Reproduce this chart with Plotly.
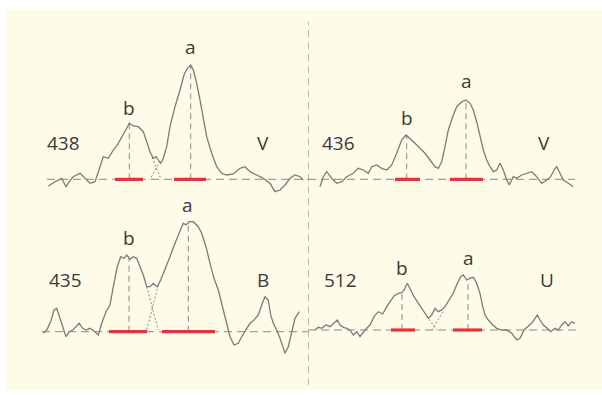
import plotly.graph_objects as go

# ---------------- data (position along trace, amplitude above baseline) ----------------
# Panel 438 (V)
pos_438 = [8.3, 15, 21.7, 26, 29.3, 33.3, 40, 45, 50, 55, 60, 63.3, 68.3, 73.3, 78.3, 83.3, 86.7, 89.3,
           93.3, 98.3, 103.3, 106.7, 110, 113.3, 116, 118.3, 120.7, 123.3, 126.7, 130, 135, 140, 144,
           147.3, 150.7, 153.3, 156.7, 160, 163.3, 166.7, 171.7, 176.7, 181.7, 186.7, 193.3, 200, 205,
           210, 216.7, 223.3, 230, 235, 240, 245, 250, 255, 260, 263.3]
amp_438 = [-6.7, -2.4, 1, -7.4, -2.4, 2.6, 6, 1, -4, -2.4, 12.6, 22.6, 21, 29.3, 36, 44.3, 51, 56,
           53.3, 52.6, 47.6, 37.6, 27.6, 21, 22.6, 19.3, 16, 21, 32.6, 52.6, 72.6, 89.3, 104.3,
           111, 114.3, 109.3, 96, 79.3, 59.3, 42.6, 26, 12.6, 6, 4.3, 5.3, 11, 12.6,
           7.6, 4.3, 1, -4, -12.4, -10.7, -5.7, 1, 4.3, 2.6, -0.7]

# Panel 436 (V)
pos_436 = [12, 15.3, 18.7, 23.7, 28.7, 33.7, 38.7, 45.3, 50.3, 55.3, 60.3, 63.7, 68.7, 73.7, 78.7, 83.7,
           88.7, 93.7, 98, 102, 107, 112, 117, 122, 127, 130.3, 133.7, 137, 140.3, 144.7, 148.7, 153.7,
           158, 162, 165.3, 168.7, 172, 175.3, 178.7, 182, 185.3, 188.7, 192, 195.3, 198.7, 201.3,
           205.3, 208.7, 213.7, 218.7, 223.7, 228.7, 233.7, 238.7, 242.7, 246, 248.7, 252, 255.3,
           260.3, 265.3]
amp_436 = [-7.4, 2.6, 7.6, 1, -4, -2.4, 2.6, 6, 11, 9.3, 6, 12.6, 14.3, 11, 9.3, 14.3,
           26, 39.3, 44.3, 41, 36, 31, 26, 19.3, 12.6, 11, 17.6, 32.6, 49.3, 62.6, 72.6, 77.6,
           79.3, 76, 69.3, 57.6, 42.6, 29.3, 19.3, 12.6, 7.6, 9.3, 16, 9.3, -0.7, -5.7,
           2.6, 1, 4.3, 6, 7.6, 2.6, -4, -0.7, 2.6, 9.3, 12.6, 6, -0.7,
           -4, -7.4]

# Panel 435 (B)
pos_435 = [3.3, 6.7, 10.7, 14, 16.7, 20, 23.3, 26, 29.3, 32.7, 36, 39.3, 42.7, 46, 50, 55, 58.3, 61.7,
           66, 70, 73.3, 77.3, 80.7, 84, 86.7, 90, 93.3, 96.7, 100, 103.3, 106.7, 110, 113.3, 117.3,
           120.7, 125, 130, 135, 140, 143.3, 146, 149.3, 153.3, 158.3, 161.7, 166, 170, 174, 178.3,
           182.7, 186.7, 190, 194, 198.3, 201.7, 206, 210, 214, 218.3, 221.7, 225, 228.3, 230.7,
           233.3, 236.7, 240, 242.7, 245, 248.3, 251.7, 255, 259.3]
amp_435 = [-1.6, 1.7, 10, 21.7, 23.4, 13.4, 1.7, -5, 0, 1.7, 5, 8.4, 3.4, 1.7, 3.4, 0, -3.3, 8.4,
           20, 26.7, 45, 65, 75, 73.4, 76.7, 72.4, 75, 73.4, 65, 56.7, 45, 45, 48.4, 45,
           51.7, 61.7, 75, 88.4, 100, 108.4, 106.7, 110, 110, 105, 98.4, 85, 68.4, 53.4, 41.7,
           25, 8.4, -5, -13.3, -11.6, -5, 1.7, 8.4, 11.7, 16.7, 26.7, 35, 31.7, 16.7,
           8.4, 1.7, -6.6, -15, -21.6, -15, -1.6, 13.4, 20]

# Panel 512 (U)
pos_512 = [7, 10.3, 13.7, 18, 22, 25.3, 29.3, 32, 35.3, 38.7, 42, 45.3, 48.7, 52, 57, 62, 66, 70.3,
           74.7, 78.7, 82, 86, 90.3, 93.7, 96, 99.3, 102.7, 106, 109.3, 112.7, 116, 120.3, 123.7,
           127, 130.3, 133.7, 137, 141.3, 145.3, 149.3, 152.7, 155.3, 158.7, 162, 165.3, 168.7,
           172, 174.7, 177, 180.3, 184.7, 188.7, 193.7, 198.7, 203.7, 208.7, 212, 216, 220.3,
           223.7, 227, 229.3, 232, 235.3, 239.3, 242.7, 247, 250.3, 253.7, 257, 260.3, 263.7, 267]
amp_512 = [0, 2.7, 1.7, 5, 3.3, 6.7, 10, 5, 2.7, 1.7, 0, -5, -1.7, -6.7, 0, 5, 13.3, 18.3,
           16, 23.3, 28.3, 34, 36.7, 37.3, 40, 46.7, 40, 33.3, 28.3, 23.3, 18.3, 11.7, 15,
           21.7, 18.3, 20, 23.3, 30, 36.7, 46.7, 53.3, 55, 50, 51.7, 52.7, 46.7,
           36.7, 23.3, 15, 10, 5, 1.7, 0, 0, -3.3, -10, -8.3, 0, 3.3,
           6.7, 11.7, 15, 10, 5, 1.7, -1.7, 1.7, 0, 5, 8.3, 4, 8.3, 6.7]

# panel meta: id label, band letter, peak b/a positions & heights, red bands, fit crossing lines
panel_ids = ["438", "436", "435", "512"]
band_labels = ["V", "V", "B", "U"]
peak_b_pos = [89.3, 98.7, 89, 94]
peak_b_amp = [56, 44.3, 75, 37.3]
peak_a_pos = [150.7, 158, 148.3, 160]
peak_a_amp = [114.3, 79.3, 110, 50]
red_b = [(75, 103), (87, 112), (69, 107), (83, 107)]
red_a = [(134, 166), (142, 175), (122, 175), (145, 174)]
fit_left = [((112, 22), (121, 0)), None, ((106.7, 45), (118.3, 1.7)), ((118.7, 14), (128.7, 0))]
fit_right = [((120, 18), (110, 0)), None, ((118.3, 46.7), (106.7, 1.7)), ((135.3, 18.3), (123.7, 0))]
baseline_span = [(7, 268), (0, 267), (2, 268), (0, 270)]
id_label_pos = [(23, 36.3), (30, 36.3), (25, 51.7), (32, 50)]
band_label_pos = [(223, 36.3), (236, 36.3), (223, 51.7), (239, 50)]
b_label_pos = [(89, 71.3), (99, 61.3), (89, 93.7), (94, 62)]
a_label_pos = [(150, 132.3), (158, 98.3), (147, 126.7), (160, 72)]

positions = [pos_438, pos_436, pos_435, pos_512]
amplitudes = [amp_438, amp_436, amp_435, amp_512]

# ---------------- layout geometry ----------------
W, H = 602, 395
x_dom = [(40, 308), (308, 588), (40, 308), (308, 588)]   # pixel extents
baseline_px = [179.3, 179.3, 331.7, 330.0]
Y_LO, Y_HI = -30, 150

GRAY = "#8a8a8a"
CURVE = "#7b7b7b"
RED = "#e3343c"
TXT = "#3a3a3a"
FONT = "Open Sans"

fig = go.Figure()
layout_axes = {}
for i in range(4):
    xa = "x" if i == 0 else f"x{i+1}"
    ya = "y" if i == 0 else f"y{i+1}"
    xkey = "xaxis" if i == 0 else f"xaxis{i+1}"
    ykey = "yaxis" if i == 0 else f"yaxis{i+1}"
    x0, x1 = x_dom[i]
    b = baseline_px[i]
    layout_axes[xkey] = dict(domain=[x0 / W, x1 / W], range=[0, x1 - x0], visible=False,
                             anchor=ya, fixedrange=True)
    layout_axes[ykey] = dict(domain=[(H - (b - Y_LO)) / H, (H - (b - Y_HI)) / H],
                             range=[Y_LO, Y_HI], visible=False, anchor=xa, fixedrange=True)

    # baseline (dashed)
    bs = baseline_span[i]
    fig.add_trace(go.Scatter(x=[bs[0], bs[1]], y=[0, 0], mode="lines", xaxis=xa, yaxis=ya,
                             line=dict(color=GRAY, width=1, dash="8px,5px"), hoverinfo="skip"))
    # fit crossing (dotted)
    for fl in (fit_left[i], fit_right[i]):
        if fl is not None:
            fig.add_trace(go.Scatter(x=[fl[0][0], fl[1][0]], y=[fl[0][1], fl[1][1]], mode="lines",
                                     xaxis=xa, yaxis=ya, line=dict(color=GRAY, width=1, dash="2px,2px"),
                                     hoverinfo="skip"))
    # peak verticals
    for px, pa in ((peak_b_pos[i], peak_b_amp[i]), (peak_a_pos[i], peak_a_amp[i])):
        fig.add_trace(go.Scatter(x=[px, px], y=[0, pa], mode="lines", xaxis=xa, yaxis=ya,
                                 line=dict(color=GRAY, width=1, dash="6px,4px"), hoverinfo="skip"))
    # red bands
    for seg in (red_b[i], red_a[i]):
        fig.add_trace(go.Scatter(x=[seg[0], seg[1]], y=[0, 0], mode="lines", xaxis=xa, yaxis=ya,
                                 line=dict(color=RED, width=3.2), hoverinfo="skip"))
    # the trace
    fig.add_trace(go.Scatter(x=positions[i], y=amplitudes[i], mode="lines", xaxis=xa, yaxis=ya,
                             line=dict(color=CURVE, width=1.3), hoverinfo="skip"))
    # labels
    for txt, (lx, ly) in ((panel_ids[i], id_label_pos[i]), (band_labels[i], band_label_pos[i]),
                          ("b", b_label_pos[i]), ("a", a_label_pos[i])):
        fig.add_annotation(x=lx, y=ly, xref=xa, yref=ya, text=txt, showarrow=False,
                           font=dict(family=FONT, size=19, color=TXT), xanchor="center", yanchor="middle")

# cream background
fig.add_shape(type="rect", xref="paper", yref="paper", x0=6 / W, x1=1, y0=(H - 390) / H, y1=(H - 10) / H,
              fillcolor="#fefbe9", line=dict(width=0), layer="below")
# central divider (dashed) anchored on panel 436's left edge
fig.add_shape(type="line", xref="x2", yref="paper", x0=0, x1=0, y0=(H - 385) / H, y1=(H - 22) / H,
              line=dict(color=GRAY, width=1.2, dash="7px,5px"), layer="below")

fig.update_layout(width=W, height=H, margin=dict(l=0, r=0, t=0, b=0), autosize=False,
                  paper_bgcolor="white", plot_bgcolor="rgba(0,0,0,0)", showlegend=False,
                  **layout_axes)

fig.write_html("out.html", config={"displayModeBar": False})
